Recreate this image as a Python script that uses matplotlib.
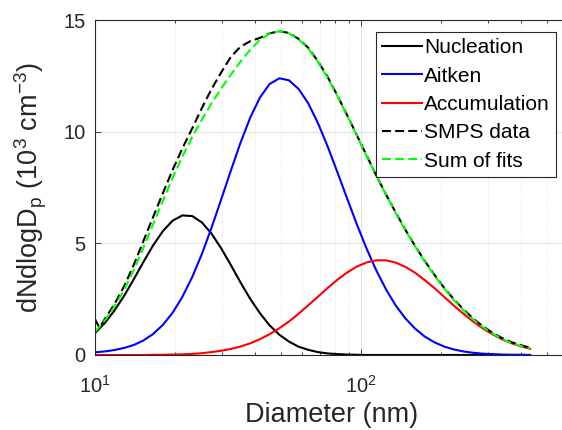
import numpy as np
import matplotlib
matplotlib.use('Agg')
import matplotlib.pyplot as plt
from matplotlib.ticker import LogLocator, NullFormatter

plt.rcParams['font.family'] = ['Liberation Sans', 'DejaVu Sans']
plt.rcParams['mathtext.fontset'] = 'custom'
plt.rcParams['mathtext.rm'] = 'Liberation Sans'
plt.rcParams['mathtext.it'] = 'Liberation Sans:italic'

# diameters (nm) for the fitted modes
diam = [10, 10.9, 11.8, 12.9, 14, 15.2, 16.5, 18, 19.6, 21.3, 23.2, 25.2, 27.4,
        29.8, 32.4, 35.2, 38.3, 41.7, 45.3, 49.3, 53.6, 58.3, 63.4, 68.9, 74.9,
        81.5, 88.6, 96.4, 104.8, 114, 124, 134.8, 146.6, 159.4, 173.4, 188.6,
        205.1, 223, 242.5, 263.7, 286.8, 311.9, 339.2, 368.9, 401.2, 432]

# dN/dlogDp, 10^3 cm^-3
nucleation = [0.98, 1.44, 1.97, 2.67, 3.40, 4.16, 4.89, 5.55, 6.02, 6.25, 6.22, 5.94,
              5.44, 4.78, 4.03, 3.26, 2.52, 1.87, 1.33, 0.91, 0.60, 0.37, 0.23, 0.13,
              0.07, 0.04, 0.02, 0.01, 0, 0, 0, 0, 0, 0, 0, 0, 0, 0, 0, 0, 0, 0, 0, 0,
              0, 0]
aitken = [0.12, 0.16, 0.22, 0.32, 0.45, 0.65, 0.93, 1.35, 1.90, 2.60, 3.49, 4.51,
          5.69, 6.96, 8.25, 9.49, 10.62, 11.53, 12.13, 12.39, 12.30, 11.91, 11.26,
          10.38, 9.34, 8.19, 7.02, 5.86, 4.78, 3.80, 2.95, 2.23, 1.65, 1.19, 0.83,
          0.57, 0.38, 0.25, 0.16, 0.10, 0.06, 0.04, 0.02, 0.01, 0.01, 0]
accumulation = [0, 0, 0, 0, 0, 0, 0.01, 0.01, 0.02, 0.03, 0.05, 0.08, 0.13, 0.19,
                0.27, 0.38, 0.52, 0.71, 0.93, 1.20, 1.50, 1.85, 2.23, 2.61, 3.00,
                3.37, 3.69, 3.96, 4.14, 4.24, 4.24, 4.14, 3.95, 3.69, 3.36, 3.00,
                2.61, 2.22, 1.85, 1.50, 1.19, 0.93, 0.70, 0.52, 0.38, 0.28]
sum_fits = [1.03, 1.55, 2.15, 2.95, 3.82, 4.80, 5.83, 6.91, 7.94, 8.88, 9.76, 10.53,
            11.26, 11.93, 12.55, 13.13, 13.66, 14.11, 14.39, 14.50, 14.40, 14.13,
            13.72, 13.12, 12.41, 11.60, 10.73, 9.83, 8.92, 8.04, 7.19, 6.37, 5.60,
            4.88, 4.19, 3.57, 2.99, 2.47, 2.01, 1.60, 1.25, 0.97, 0.72, 0.53, 0.39,
            0.28]

smps_d = [10, 10.4, 10.9, 11.8, 12.9, 14, 15.2, 16.5, 18, 19.6, 21.3, 23.2, 25.2,
          27.4, 29.8, 32.4, 35.2, 38.3, 41.7, 45.3, 49.3, 53.6, 58.3, 63.4, 68.9,
          74.9, 81.5, 88.6, 96.4, 104.8, 114, 124, 134.8, 146.6, 159.4, 173.4,
          188.6, 205.1, 223, 242.5, 263.7, 286.8, 311.9, 339.2, 368.9, 401.2, 432]
smps = [1.60, 1.22, 1.62, 2.25, 3.10, 4.05, 5.10, 6.15, 7.25, 8.30, 9.25, 10.15,
        11.05, 11.90, 12.65, 13.35, 13.80, 14.05, 14.20, 14.40, 14.50, 14.42, 14.15,
        13.75, 13.15, 12.45, 11.62, 10.75, 9.85, 8.95, 8.05, 7.20, 6.40, 5.62, 4.90,
        4.22, 3.60, 3.02, 2.50, 2.05, 1.64, 1.29, 1.00, 0.76, 0.57, 0.43, 0.33]

fig = plt.figure(figsize=(5.62, 4.3), dpi=100)
ax = fig.add_axes([95 / 562, 75 / 430, 473 / 562, 335 / 430])

dash = (4.3, 2.0)
ax.plot(diam, nucleation, color='k', lw=1.5, label='Nucleation')
ax.plot(diam, aitken, color='#0000ff', lw=1.5, label='Aitken')
ax.plot(diam, accumulation, color='#ff0000', lw=1.5, label='Accumulation')
ax.plot(smps_d, smps, color='k', lw=1.5, dashes=dash, label='SMPS data')
ax.plot(diam, sum_fits, color='#00ff00', lw=1.5, dashes=dash, label='Sum of fits')

ax.set_xscale('log')
ax.set_xlim(10, 600)
ax.set_ylim(0, 15)
ax.set_yticks([0, 5, 10, 15])
ax.xaxis.set_minor_locator(LogLocator(base=10, subs=np.arange(2, 10)))
ax.xaxis.set_minor_formatter(NullFormatter())

ax.grid(True, which='major', color='#e3e3e3', lw=0.8)
ax.grid(True, which='minor', axis='x', color='#dcdcdc', lw=0.6, ls=':')
ax.set_axisbelow(True)
for sp in ax.spines.values():
    sp.set_color('#262626')
    sp.set_linewidth(0.8)
ax.tick_params(which='both', direction='in', top=True, right=True,
               colors='#262626', labelsize=14.5, width=0.6)
ax.tick_params(which='major', length=4)
ax.tick_params(which='minor', length=2.5)
ax.tick_params(axis='x', pad=14)
ax.tick_params(axis='y', pad=7)

ax.set_xlabel('Diameter (nm)', fontsize=19.5, color='#262626')
ax.set_ylabel('dNdlogD$_{\\rm p}$ (10$^{3}$ cm$^{-3}$)', fontsize=19.5, color='#262626')
ax.yaxis.set_label_coords(-0.097, 0.5)

leg = ax.legend(loc='upper right', bbox_to_anchor=(461 / 473, 323 / 335),
                borderaxespad=0, fontsize=15, fancybox=False, framealpha=1,
                edgecolor='#262626', handlelength=1.9, handletextpad=0.1,
                labelspacing=0.45, borderpad=0.3)
leg.get_frame().set_linewidth(0.8)

fig.savefig('out.png', dpi=100)
